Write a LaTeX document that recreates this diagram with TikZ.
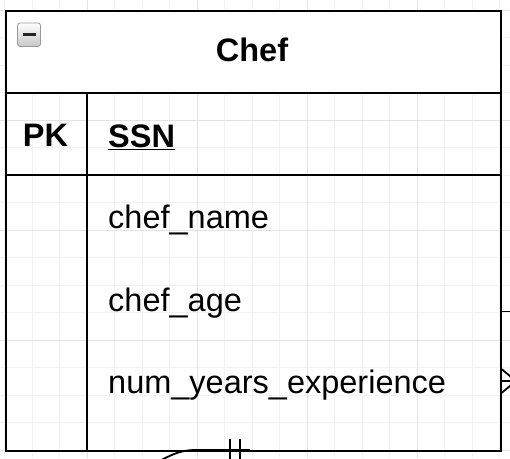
\documentclass[tikz,border=0pt]{standalone}
\usepackage{fontspec}
\setmainfont{Liberation Sans}
\begin{document}
\begin{tikzpicture}[x=1pt,y=-1pt,
  fieldtxt/.style={font=\fontsize{32.5}{36}\selectfont, anchor=base west, inner sep=0pt},
  boldtxt/.style={font=\fontsize{32.5}{36}\selectfont\bfseries, inner sep=0pt},
  edge/.style={line width=2pt, black},
  conn/.style={line width=1.8pt, black},
  minorgrid/.style={draw=black!5, line width=0.8pt},
  majorgrid/.style={draw=black!11, line width=0.9pt}]
\useasboundingbox (0,0) rectangle (510,458);
\clip (0,0) rectangle (510,458);
% grid
\foreach \i in {-3,...,20} {
  \draw[minorgrid] ({4.5+27.5*\i},0) -- ({4.5+27.5*\i},458);
  \draw[minorgrid] (0,{10+27.5*\i}) -- (510,{10+27.5*\i});
}
\foreach \i in {-1,...,5} {
  \draw[majorgrid] ({87+110*\i},0) -- ({87+110*\i},458);
  \draw[majorgrid] (0,{10+110*\i}) -- (510,{10+110*\i});
}
% header fill
\fill[white] (4.5,10) rectangle (499.5,92.5);
% table
\node[draw, line width=2pt, minimum width=495pt, minimum height=440pt, inner sep=0pt, anchor=north west] (chef) at (4.5,10) {};
\draw[edge] (4.5,92.5) -- (499.5,92.5);
\draw[edge] (4.5,175) -- (499.5,175);
\draw[edge] (87,92.5) -- (87,450);
% collapse icon
\shade[top color=white, bottom color=black!22, draw=black!40, line width=0.8pt, rounded corners=2.5pt] (17.5,23) rectangle (40.5,46.5);
\draw[line width=2.2pt, black!85] (22.5,34.5) -- (35.5,34.5);
% texts
\node[boldtxt] (title) at (252,50) {Chef};
\node[boldtxt] (pk) at (45.5,135) {PK};
\node[fieldtxt, font=\fontsize{32.5}{36}\selectfont\bfseries] (ssn) at (108,147) {SSN};
\draw[line width=1.8pt] (ssn.base west) ++(0,2.5) -- ++(67,0);
\node[fieldtxt] (f1) at (108,228.5) {chef\_name};
\node[fieldtxt] (f2) at (108,311) {chef\_age};
\node[fieldtxt] (f3) at (108,393.5) {num\_years\_experience};
% connectors
\coordinate (r1) at (512,311.5);
\draw[conn] (chef.north east |- r1) -- (r1);
\coordinate (cf) at (516,381);
\draw[conn] (chef.north east |- cf) -- (cf);
\draw[conn] ([yshift=-12pt]chef.north east |- cf) -- (cf);
\draw[conn] ([yshift=12pt]chef.north east |- cf) -- (cf);
\coordinate (b1) at (250,450);
\coordinate (b2) at (158,462);
\draw[conn] (b1) -- (195,450) .. controls (182,450) and (172,454) .. (b2);
\draw[conn] (230,439) -- (230,462);
\draw[conn] (240,439) -- (240,462);
\end{tikzpicture}
\end{document}
